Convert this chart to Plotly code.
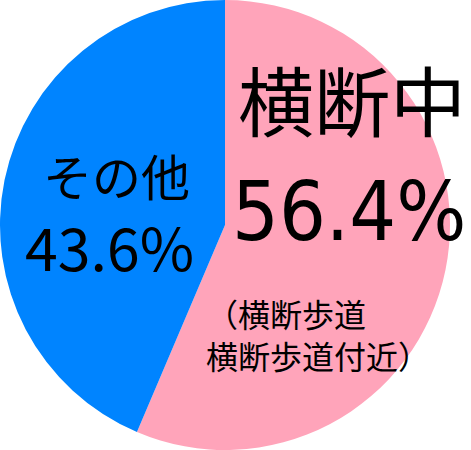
import plotly.graph_objects as go

W, H = 471, 450

labels = ['横断中', 'その他']
values = [56.4, 43.6]
colors = ['#ffa4ba', '#0084ff']
pct_text = ['56.4%', '43.6%']
sub_text = '（横断歩道<br>横断歩道付近）'

fig = go.Figure()
fig.add_trace(
    go.Pie(
        labels=labels,
        values=values,
        sort=False,
        direction='clockwise',
        rotation=0,
        textinfo='none',
        hoverinfo='label+percent',
        marker=dict(colors=colors, line=dict(width=0)),
        domain=dict(x=[0, 450 / W], y=[0, 1]),
        showlegend=False,
    )
)

def px(x, y):
    return x / W, 1 - y / H

cjk = 'Noto Sans CJK JP'
notes = [
    (labels[0], 352, 98, cjk, 76, 'center'),
    (pct_text[0], 349, 211, 'DejaVu Sans Condensed', 82, 'center'),
    (sub_text, 204, 334, cjk, 32, 'left'),
    (labels[1], 116, 175, cjk, 49, 'center'),
    (pct_text[1], 109, 246, cjk, 59, 'center'),
]
for text, x, y, fam, size, anchor in notes:
    ax, ay = px(x, y)
    fig.add_annotation(
        x=ax, y=ay, xref='paper', yref='paper',
        text=text, showarrow=False,
        xanchor=anchor, yanchor='middle', align='left',
        font=dict(family=fam, size=size, color='#000000'),
    )

fig.update_layout(
    width=W,
    height=H,
    margin=dict(l=0, r=0, t=0, b=0),
    paper_bgcolor='#ffffff',
    plot_bgcolor='#ffffff',
)
# page body has an 8px default margin; drop it so the chart sits at 0,0
fig.write_html('out.html', config={'displayModeBar': False},
               post_script="document.body.style.margin='0px';")
